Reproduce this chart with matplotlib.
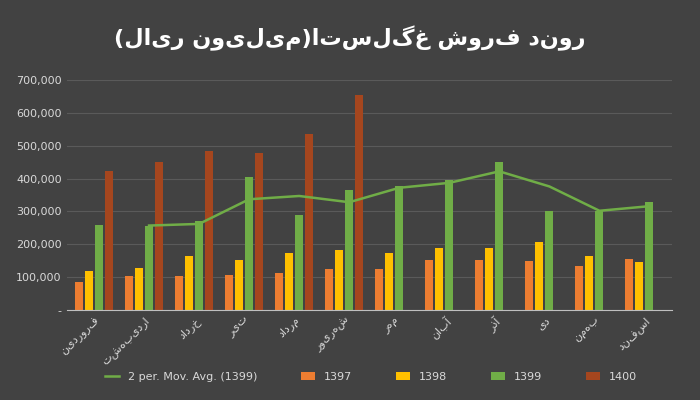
import matplotlib
matplotlib.use("Agg")
import matplotlib.pyplot as plt
import numpy as np
from matplotlib.ticker import FuncFormatter

months = ["فروردین","اردیبهشت","خرداد","تیر","مرداد","شهریور","مهر","آبان","آذر","دی","بهمن","اسفند"]
s1397 = [85,105,105,108,112,125,125,152,152,150,135,155]
s1398 = [120,128,165,153,175,183,173,190,190,207,165,145]
s1399 = [260,255,270,405,290,365,378,395,450,302,302,330]
s1400 = [422,450,483,478,535,655]
mov_avg = [257,262,337,347,328,372,387,422,376,302,316]
title = "روند فروش غگلستا(میلیون ریال)"

def rtl(s):
    mirror = {'(': ')', ')': '('}
    return ''.join(mirror.get(c, c) for c in s[::-1])

plt.rcParams['font.family'] = ['DejaVu Sans']
fig = plt.figure(figsize=(7,4), dpi=100, facecolor='#424242')
ax = fig.add_axes([0.095,0.225,0.865,0.575], facecolor='#424242')
x = np.arange(len(months))
w = 0.2
ax.bar(x-1.5*w, np.array(s1397)*1000, w*0.8, color='#ED7D31', label='1397')
ax.bar(x-0.5*w, np.array(s1398)*1000, w*0.8, color='#FFC000', label='1398')
ax.bar(x+0.5*w, np.array(s1399)*1000, w*0.8, color='#70AD47', label='1399')
ax.bar(x[:len(s1400)]+1.5*w, np.array(s1400)*1000, w*0.8, color='#A5461E', label='1400')
ax.plot(x[1:]+0.5*w, np.array(mov_avg)*1000, color='#70AD47', lw=1.8, label='2 per. Mov. Avg. (1399)')
ax.set_ylim(0,700000)
ax.set_xlim(-0.55, 11.55)
ax.set_yticks(np.arange(0,700001,100000))
ax.yaxis.set_major_formatter(FuncFormatter(lambda v,p: f"{int(v):,}" if v>0 else "-"))
ax.grid(axis='y', color='#5a5a5a', lw=0.8)
ax.set_axisbelow(True)
for s in ['top','right','left']:
    ax.spines[s].set_visible(False)
ax.spines['bottom'].set_color('#bfbfbf')
ax.tick_params(colors='#d9d9d9', labelsize=8, length=0)
ax.set_xticks(x)
ax.set_xticklabels([rtl(m) for m in months], rotation=45, ha='right', rotation_mode='anchor', fontsize=8, color='#d9d9d9')
fig.text(0.5, 0.905, rtl(title), ha='center', va='center', color='white', fontsize=16, fontweight='bold')
fig.legend(loc='lower center', ncol=5, frameon=False, fontsize=8, labelcolor='#d9d9d9', bbox_to_anchor=(0.53,0.02), handlelength=1.2, columnspacing=4)
fig.savefig('out.png', dpi=100, facecolor=fig.get_facecolor())
